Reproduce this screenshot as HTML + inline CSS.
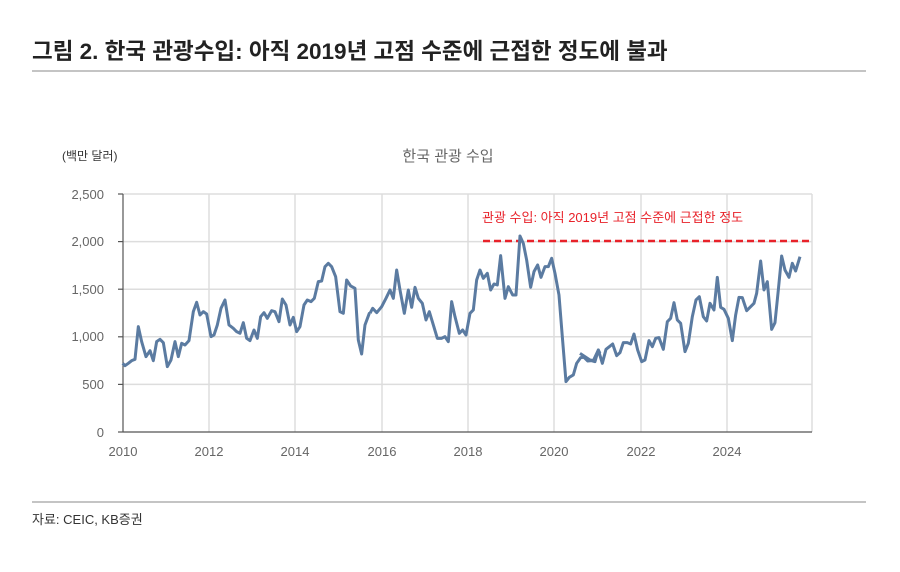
<!DOCTYPE html>
<html><head><meta charset="utf-8"><style>
body{margin:0;width:900px;height:572px;background:#fff;font-family:"Liberation Sans","Noto Sans CJK KR",sans-serif;overflow:hidden}
</style></head><body>
<svg width="900" height="572" xmlns="http://www.w3.org/2000/svg" style="position:absolute;left:0;top:0" font-family="Liberation Sans, Noto Sans CJK KR, sans-serif">
<text x="32" y="59" font-size="22.5" font-weight="bold" fill="#222">그림 2. 한국 관광수입: 아직 2019년 고점 수준에 근접한 정도에 불과</text>
<line x1="32" y1="71" x2="866" y2="71" stroke="#888" stroke-width="1"/>
<text x="62" y="160" font-size="12" fill="#333">(백만 달러)</text>
<text x="448" y="161" font-size="15" fill="#666" text-anchor="middle">한국 관광 수입</text>
<g stroke="#ddd" stroke-width="1.5">
<line x1="123" y1="194" x2="812" y2="194"/><line x1="123" y1="241.6" x2="812" y2="241.6"/><line x1="123" y1="289.2" x2="812" y2="289.2"/><line x1="123" y1="336.8" x2="812" y2="336.8"/><line x1="123" y1="384.4" x2="812" y2="384.4"/>
<line x1="209" y1="194" x2="209" y2="432"/><line x1="295" y1="194" x2="295" y2="432"/><line x1="382" y1="194" x2="382" y2="432"/><line x1="468" y1="194" x2="468" y2="432"/><line x1="554" y1="194" x2="554" y2="432"/><line x1="641" y1="194" x2="641" y2="432"/><line x1="727" y1="194" x2="727" y2="432"/><line x1="812" y1="194" x2="812" y2="432"/>
</g>
<g stroke="#555" stroke-width="1.2">
<line x1="123" y1="194" x2="123" y2="432"/><line x1="123" y1="432" x2="812" y2="432"/>
<line x1="118" y1="194" x2="123" y2="194"/><line x1="118" y1="241.6" x2="123" y2="241.6"/><line x1="118" y1="289.2" x2="123" y2="289.2"/><line x1="118" y1="336.8" x2="123" y2="336.8"/><line x1="118" y1="384.4" x2="123" y2="384.4"/><line x1="118" y1="432" x2="123" y2="432"/>
</g>
<g font-size="13" fill="#666" text-anchor="end">
<text x="104" y="199">2,500</text><text x="104" y="246">2,000</text><text x="104" y="294">1,500</text><text x="104" y="341">1,000</text><text x="104" y="389">500</text><text x="104" y="437">0</text>
</g>
<g font-size="13" fill="#666" text-anchor="middle">
<text x="123" y="456">2010</text><text x="209" y="456">2012</text><text x="295" y="456">2014</text><text x="382" y="456">2016</text><text x="468" y="456">2018</text><text x="554" y="456">2020</text><text x="641" y="456">2022</text><text x="727" y="456">2024</text>
</g>
<text x="482" y="222" font-size="13" fill="#e8222a">관광 수입: 아직 2019년 고점 수준에 근접한 정도</text>
<line x1="483" y1="241" x2="812" y2="241" stroke="#e8222a" stroke-width="2.5" stroke-dasharray="7,4"/>
<g fill="none" stroke="#5b7ba1" stroke-width="9" stroke-linejoin="round">
<polyline transform="translate(110,190) scale(0.3333)" points="38,520 45,527 55,520 65,512 75,508 85,410 95,455 108,500 120,482 130,512 140,455 150,448 160,458 172,530 183,510 195,455 205,500 215,460 225,465 237,452 250,365 260,337 270,375 280,365 290,372 303,440 312,435 322,405 333,355 345,330 357,405 370,415 380,425 390,430 400,398 410,445 420,452 432,420 442,445 452,380 462,368 472,385 485,362 495,365 507,395 517,327 528,345 540,405 550,382 560,425 570,410 582,345 592,330 603,335 613,325 625,275 635,273 645,230 655,220 665,230 677,260 690,365 700,370 710,270 722,288 735,295 745,450 755,492 765,405 778,370 780,370"/>
<polyline transform="translate(360,190) scale(0.3333)" points="30,370 38,355 50,368 65,350 78,325 90,300 100,325 110,240 120,300 133,370 145,300 155,352 165,292 175,325 187,340 198,390 208,365 220,405 232,445 245,445 255,440 265,455 275,335 285,380 298,430 308,420 318,435 330,370 340,360 350,270 360,240 370,265 382,250 392,300 402,282 412,285 422,197 435,325 445,290 458,315 468,315 480,138 490,160 500,210 512,292 522,245 533,225 543,262 555,230 565,230 575,205 585,250 597,315 607,440 618,575 628,562 640,555 650,520 662,503 672,502 683,513 695,512 705,515 715,480 720,490"/>
<polyline transform="translate(590,190) scale(0.3333)" points="-30,490 0,510 10,512 25,480 37,520 48,478 58,470 68,462 80,497 90,488 100,458 112,458 122,462 132,432 143,480 155,515 165,510 177,452 187,470 197,445 207,443 220,478 232,395 242,385 252,338 262,390 272,400 285,485 295,460 307,380 318,330 328,320 340,380 350,393 360,340 372,360 382,262 392,352 402,358 415,385 427,452 437,375 447,322 457,323 470,362 480,352 492,340 500,310 512,213 522,300 532,275 545,418 555,398 565,300 575,198 585,240 597,262 607,220 617,243 630,200"/>
</g>
<line x1="32" y1="502" x2="866" y2="502" stroke="#888" stroke-width="1"/>
<text x="32" y="524" font-size="13" fill="#333">자료: CEIC, KB증권</text>
</svg>
</body></html>
